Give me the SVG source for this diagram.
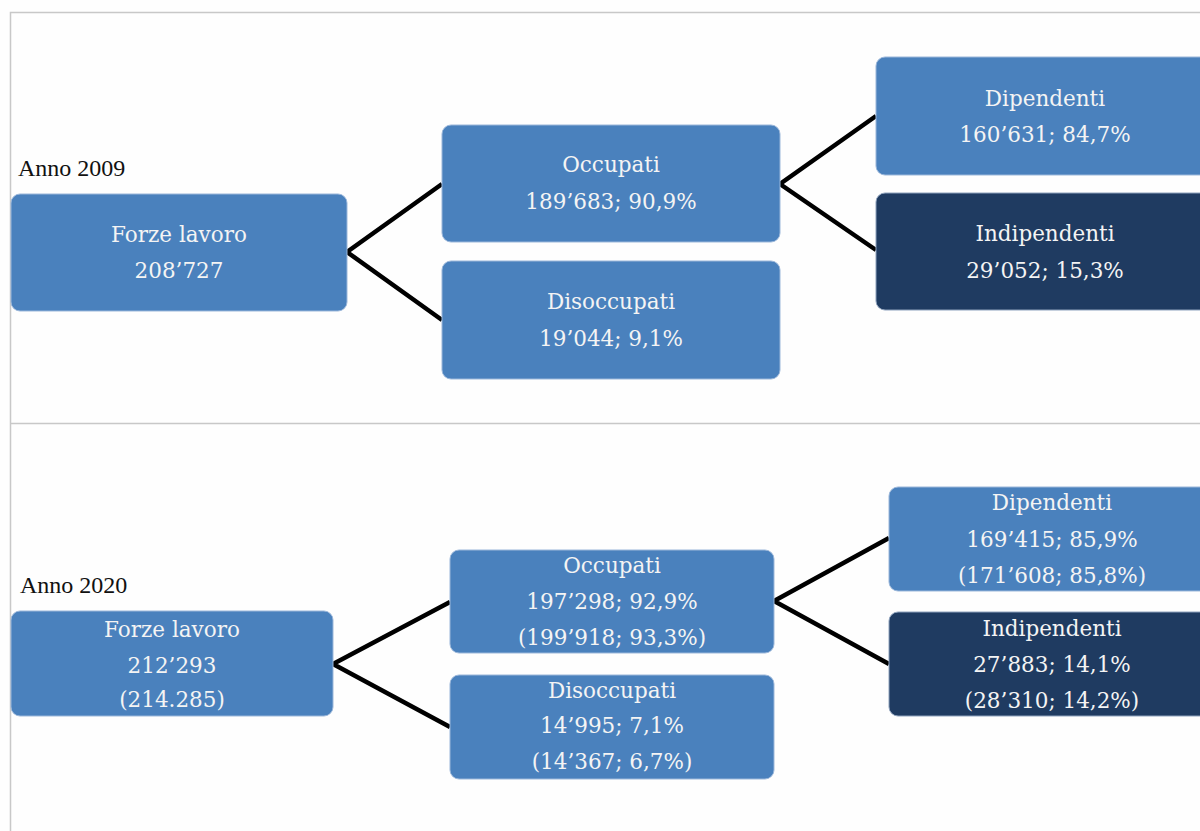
<svg xmlns="http://www.w3.org/2000/svg" width="1200" height="831" viewBox="0 0 1200 831">
<style>
.box{fill:#4a81bd;stroke:#9bb7da;stroke-width:1}
.dark{fill:#1f3b61;stroke:#8ea2bd;stroke-width:1}
.t{font-family:"DejaVu Serif","Liberation Serif",serif;font-size:21.5px;fill:#f4f4f4;text-anchor:middle}
.yr{font-family:"Liberation Serif",serif;font-size:24px;fill:#111}
.c{stroke:#000;stroke-width:4.5;fill:none;stroke-linejoin:miter}
.frame{stroke:#c8c8c8;stroke-width:1.5;fill:none}
</style>
<rect width="1200" height="831" fill="#fefefe"/>
<g id="frame">
<path class="frame" d="M1200 12.5H10.5V831M10.5 423.5H1200"/>
</g>
<g id="connectors">
<path class="c" d="M442 184L347 252L442 320"/>
<path class="c" d="M876 116L780 184L876 250"/>
<path class="c" d="M450 602L333 664L450 727"/>
<path class="c" d="M889 538L774 601L889 664"/>
</g>
<text class="yr" x="18" y="176">Anno 2009</text>
<text class="yr" x="20" y="593">Anno 2020</text>
<g id="forze2009">
<rect class="box" x="11" y="194" width="336" height="117" rx="9"/>
<text class="t" x="179" y="242">Forze lavoro</text>
<text class="t" x="179" y="278">208’727</text>
</g>
<g id="occupati2009">
<rect class="box" x="442" y="125" width="338" height="117" rx="9"/>
<text class="t" x="611" y="172">Occupati</text>
<text class="t" x="611" y="209">189’683; 90,9%</text>
</g>
<g id="disoccupati2009">
<rect class="box" x="442" y="261" width="338" height="118" rx="9"/>
<text class="t" x="611" y="309">Disoccupati</text>
<text class="t" x="611" y="346">19’044; 9,1%</text>
</g>
<g id="dipendenti2009">
<rect class="box" x="876" y="57" width="340" height="118" rx="9"/>
<text class="t" x="1045" y="106">Dipendenti</text>
<text class="t" x="1045" y="142">160’631; 84,7%</text>
</g>
<g id="indipendenti2009">
<rect class="dark" x="876" y="193" width="340" height="117" rx="9"/>
<text class="t" x="1045" y="241">Indipendenti</text>
<text class="t" x="1045" y="278">29’052; 15,3%</text>
</g>
<g id="forze2020">
<rect class="box" x="11" y="611" width="322" height="105" rx="9"/>
<text class="t" x="172" y="637">Forze lavoro</text>
<text class="t" x="172" y="673">212’293</text>
<text class="t" x="172" y="707">(214.285)</text>
</g>
<g id="occupati2020">
<rect class="box" x="450" y="550" width="324" height="103" rx="9"/>
<text class="t" x="612" y="573">Occupati</text>
<text class="t" x="612" y="609">197’298; 92,9%</text>
<text class="t" x="612" y="645">(199’918; 93,3%)</text>
</g>
<g id="disoccupati2020">
<rect class="box" x="450" y="675" width="324" height="104" rx="9"/>
<text class="t" x="612" y="698">Disoccupati</text>
<text class="t" x="612" y="733">14’995; 7,1%</text>
<text class="t" x="612" y="769">(14’367; 6,7%)</text>
</g>
<g id="dipendenti2020">
<rect class="box" x="889" y="487" width="326" height="104" rx="9"/>
<text class="t" x="1052" y="510">Dipendenti</text>
<text class="t" x="1052" y="547">169’415; 85,9%</text>
<text class="t" x="1052" y="583">(171’608; 85,8%)</text>
</g>
<g id="indipendenti2020">
<rect class="dark" x="889" y="612" width="326" height="104" rx="9"/>
<text class="t" x="1052" y="636">Indipendenti</text>
<text class="t" x="1052" y="672">27’883; 14,1%</text>
<text class="t" x="1052" y="708">(28’310; 14,2%)</text>
</g>
</svg>
